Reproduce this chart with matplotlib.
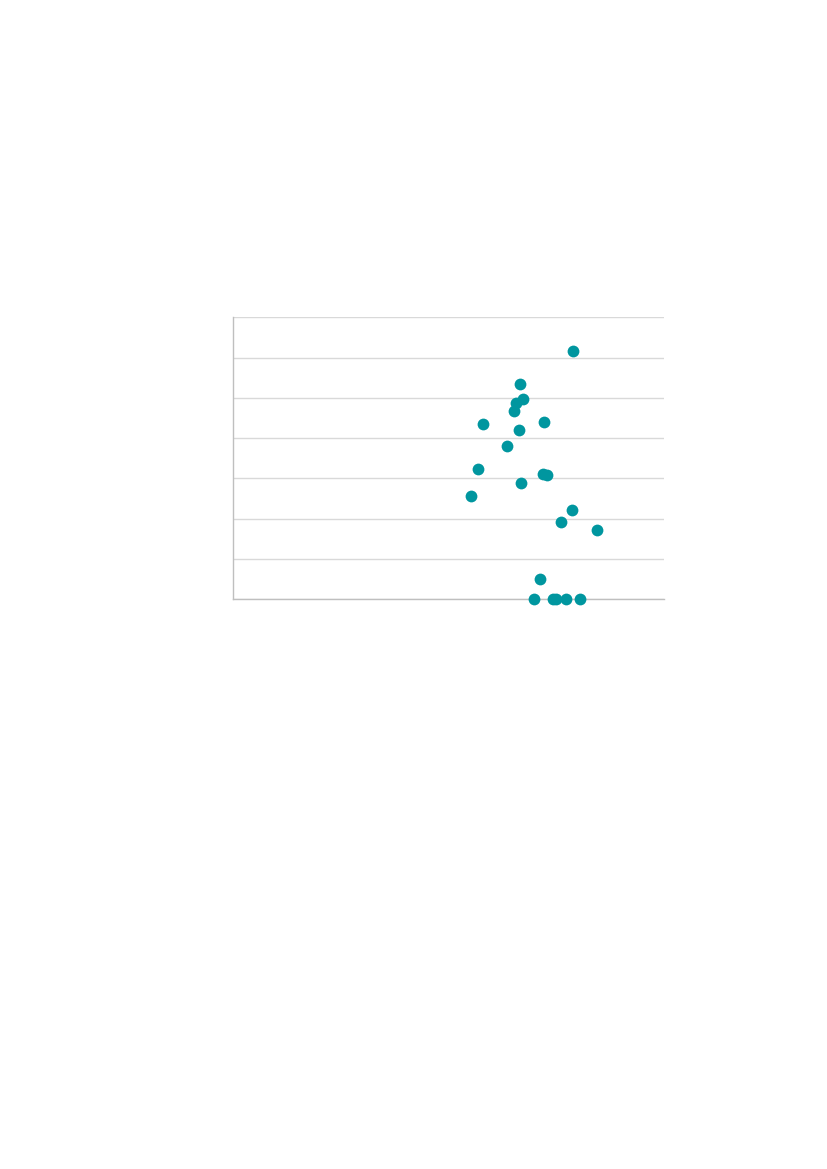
import matplotlib
matplotlib.use('Agg')
import matplotlib.pyplot as plt

# point values (x on 0-100, y on 0-7)
x_vals = [78.9, 66.6, 67.3, 65.7, 65.1, 58.0, 72.1, 66.3, 63.6, 56.7,
          71.8, 72.9, 66.9, 55.3, 78.7, 76.2, 84.4, 71.1,
          69.9, 74.3, 75.0, 77.2, 80.5]
y_vals = [6.15, 5.35, 4.97, 4.86, 4.67, 4.35, 4.40, 4.19, 3.81, 3.22,
          3.11, 3.07, 2.88, 2.57, 2.22, 1.91, 1.71, 0.50,
          0.0, 0.0, 0.0, 0.0, 0.0]
y_grid = [0, 1, 2, 3, 4, 5, 6, 7]

fig = plt.figure(figsize=(8.27, 11.69), dpi=100)
ax = fig.add_axes([0.2821, 0.4876, 0.5208, 0.2410])

ax.scatter(x_vals, y_vals, s=72, color='#00969f', linewidths=0, zorder=3, clip_on=False)

ax.set_xlim(0, 100)
ax.set_ylim(0, 7)
ax.set_yticks(y_grid)
ax.set_xticks([])
ax.tick_params(left=False, labelleft=False)
ax.grid(axis='y', color='#d9d9d9', linewidth=1)
ax.set_axisbelow(True)

for side in ['top', 'right']:
    ax.spines[side].set_visible(False)
for side in ['left', 'bottom']:
    ax.spines[side].set_color('#bfbfbf')
    ax.spines[side].set_linewidth(1)

plt.savefig('out.png', dpi=100)
plt.close()
